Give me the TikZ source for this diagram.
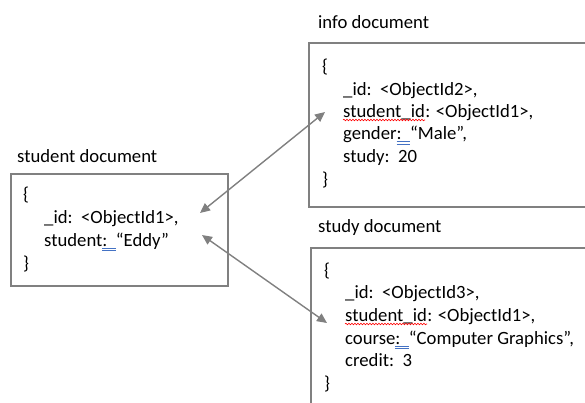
\documentclass[tikz,border=0pt]{standalone}
\usepackage{fontspec}
\setmainfont{Carlito}
\usetikzlibrary{arrows.meta,decorations.pathmorphing}
\definecolor{boxgray}{RGB}{128,128,128}
\definecolor{arrowgray}{RGB}{128,128,128}
\definecolor{ulblue}{RGB}{68,114,196}
\newcommand\bluedbl[1]{\setbox0\hbox{#1}\rlap{\textcolor{ulblue}{\rule[-2.8pt]{\wd0}{0.9pt}}}\rlap{\textcolor{ulblue}{\rule[-5pt]{\wd0}{0.9pt}}}\box0}
\begin{document}
\begin{tikzpicture}[x=1pt,y=-1pt,
  txt/.style={anchor=base west, inner sep=0pt, font=\fontsize{18.7}{22}\selectfont},
  docbox/.style={draw=boxgray, line width=1.6pt, anchor=north west, inner sep=0pt},
  link/.style={draw=arrowgray, line width=1.4pt, {Triangle[length=10pt,width=9pt]}-{Triangle[length=10pt,width=9pt]}},
  redwave/.style={draw=red, line width=0.6pt, decorate, decoration={snake, amplitude=0.8pt, segment length=3pt}}]
\useasboundingbox (0,0) rectangle (585,402);
\clip (0,0) rectangle (585,402);
% boxes
\node[docbox, minimum width=217pt, minimum height=112pt] (studentbox) at (10,173) {};
\node[docbox, minimum width=290pt, minimum height=164pt] (infobox) at (308,42) {};
\node[docbox, minimum width=290pt, minimum height=175pt] (studybox) at (310,247) {};
% titles
\node[txt] (studenttitle) at (17,162) {student document};
\node[txt] (infotitle) at (318,28) {info document};
\node[txt] (studytitle) at (318,232) {study document};
% student document
\node[txt] (s1) at (23,200) {\{};
\node[txt] (s2) at (44,223) {\_id:\ \ <ObjectId1>,};
\node[txt] (s3) at (44,246) {student\bluedbl{:\ \ }“Eddy”};
\node[txt] (s4) at (23,269) {\}};
% info document
\node[txt] (i1) at (322,72) {\{};
\node[txt] (i2) at (343,95) {\_id:\ \ <ObjectId2>,};
\node[txt] (i3a) at (343,117) {student\_id};
\node[txt] (i3b) at (i3a.base east) {: <ObjectId1>,};
\node[txt] (i4) at (343,139.5) {gender\bluedbl{:\ \ }“Male”,};
\node[txt] (i5) at (343,162) {study:\ \ 20};
\node[txt] (i6) at (322,185) {\}};
% study document
\node[txt] (t1) at (324,276) {\{};
\node[txt] (t2) at (345,298.5) {\_id:\ \ <ObjectId3>,};
\node[txt] (t3a) at (345,321) {student\_id};
\node[txt] (t3b) at (t3a.base east) {: <ObjectId1>,};
\node[txt] (t4) at (345,344) {course\bluedbl{:\ \ }“Computer Graphics”,};
\node[txt] (t5) at (345,366.5) {credit:\ \ 3};
\node[txt] (t6) at (324,389.5) {\}};
% spelling marks
\draw[redwave] ([yshift=-3pt]i3a.base west) -- ([yshift=-3pt]i3a.base east);
\draw[redwave] ([yshift=-3pt]t3a.base west) -- ([yshift=-3pt]t3a.base east);
% connectors
\coordinate (a1s) at (200,213);
\coordinate (a1e) at (325,112);
\coordinate (a2s) at (202,235);
\coordinate (a2e) at (327,323);
\draw[link] (a1s) -- (a1e);
\draw[link] (a2s) -- (a2e);
\end{tikzpicture}
\end{document}
